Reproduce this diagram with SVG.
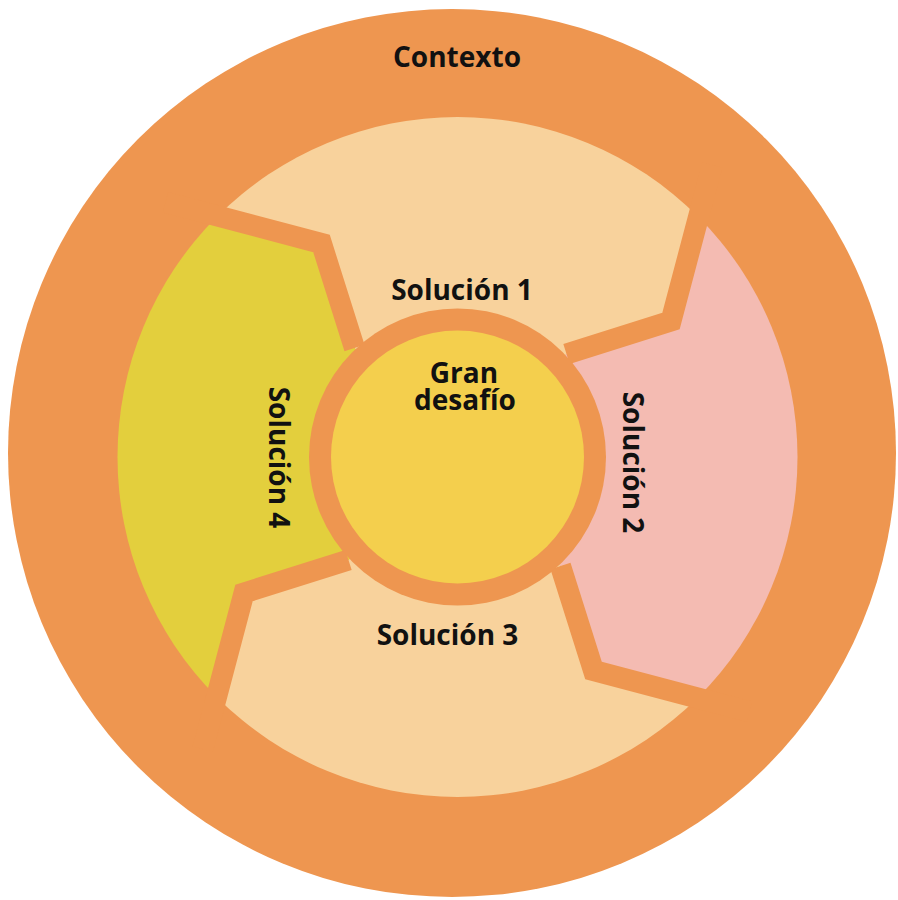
<svg xmlns="http://www.w3.org/2000/svg" width="898" height="900" viewBox="0 0 898 900">
  <defs>
    <clipPath id="ring">
      <circle cx="457.5" cy="457" r="340"/>
    </clipPath>
    <style>
      .lbl { font-family: "Open Sans", "Noto Sans", "Liberation Sans", sans-serif; font-weight: bold; font-size: 28px; fill: #111; text-anchor: middle; }
      .sep { fill: none; stroke: #EE9650; stroke-width: 21; stroke-linejoin: miter; stroke-miterlimit: 10; }
    </style>
  </defs>
  <rect width="898" height="900" fill="#ffffff"/>
  <g id="contexto">
    <circle cx="452" cy="453" r="444" fill="#EE9650"/>
    <text class="lbl" x="457" y="67">Contexto</text>
  </g>
  <g clip-path="url(#ring)">
    <g id="solucion1">
      <polygon fill="#F8D29C" points="457.5,457 354.5,348 321.5,243.5 165.5,202.25 -126.5,-52.5 457.5,-443 967,-127 712.25,165 671,321 566.5,354"/>
    </g>
    <g id="solucion2">
      <polygon fill="#F4BBB2" points="457.5,457 566.5,354 671,321 712.25,165 967,-127 1357.5,457 1041.5,966.5 749.5,711.75 593.5,670.5 560.5,566"/>
    </g>
    <g id="solucion3">
      <polygon fill="#F8D29C" points="457.5,457 560.5,566 593.5,670.5 749.5,711.75 1041.5,966.5 457.5,1357 -52,1041 202.75,749 244,593 348.5,560"/>
    </g>
    <g id="solucion4">
      <polygon fill="#E3CF3D" points="457.5,457 348.5,560 244,593 202.75,749 -52,1041 -442.5,457 -126.5,-52.5 165.5,202.25 321.5,243.5 354.5,348"/>
    </g>
  </g>
  <g id="connectors">
    <polyline class="sep" points="354.5,348 321.5,243.5 165.5,202.25"/>
    <polyline class="sep" points="566.5,354 671,321 712.25,165"/>
    <polyline class="sep" points="560.5,566 593.5,670.5 749.5,711.75"/>
    <polyline class="sep" points="348.5,560 244,593 202.75,749"/>
  </g>
  <g id="labels">
    <text class="lbl" x="462" y="300">Solución 1</text>
    <text class="lbl" transform="translate(623,462.5) rotate(90)" x="0" y="0">Solución 2</text>
    <text class="lbl" x="447.5" y="645">Solución 3</text>
    <text class="lbl" transform="translate(269,457.5) rotate(90)" x="0" y="0">Solución 4</text>
  </g>
  <g id="gran-desafio">
    <circle cx="457.5" cy="457" r="148.5" fill="#EE9650"/>
    <circle cx="457.5" cy="457" r="126.5" fill="#F4CF4D"/>
    <text class="lbl"><tspan x="464" y="383">Gran</tspan><tspan x="465" y="410">desafío</tspan></text>
  </g>
</svg>
